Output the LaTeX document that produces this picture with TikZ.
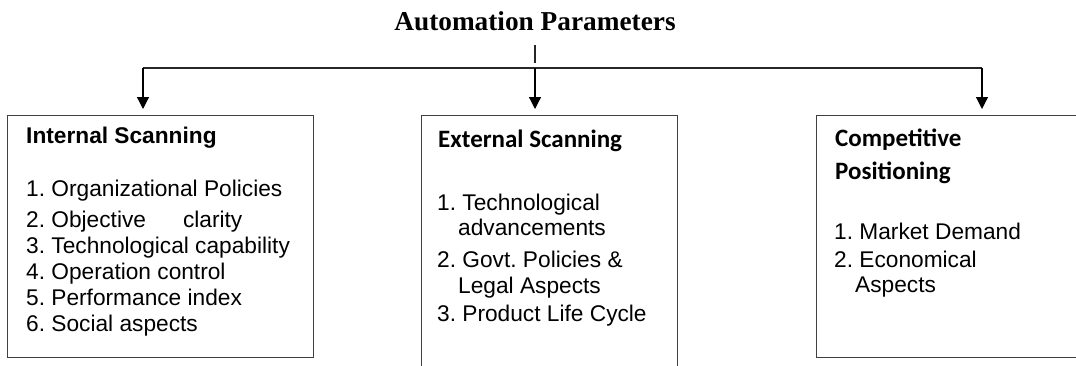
\documentclass[tikz,border=0pt]{standalone}
\usepackage{fontspec}
\setmainfont{Liberation Sans}
\newfontfamily\titlefont{Liberation Serif}
\newfontfamily\headfont{Carlito}
\usetikzlibrary{arrows.meta}
\frenchspacing
\begin{document}
\begin{tikzpicture}[x=1pt,y=-1pt,
  panel/.style={draw=black!75,line width=1.2pt,rectangle,inner sep=0pt,anchor=north west},
  item/.style={anchor=base west,inner sep=0pt,font=\frenchspacing\fontsize{22.7}{26}\selectfont},
  arialhead/.style={anchor=base west,inner sep=0pt,font=\fontsize{22.7}{26}\selectfont\bfseries},
  calhead/.style={anchor=base west,inner sep=0pt,font=\headfont\fontsize{25}{28}\selectfont\bfseries},
  link/.style={draw=black!85,line width=1.2pt},
  arr/.style={link,draw=black,-{Triangle[width=12pt,length=12pt]},shorten >=6pt}]
\useasboundingbox (0,0) rectangle (1076,365);
\clip (0,0) rectangle (1076,365);

% title and branching connectors
\node[anchor=base,inner sep=0pt,font=\titlefont\fontsize{27.3}{30}\selectfont\bfseries] (title) at (535,30) {Automation Parameters};
\coordinate (tickA) at (535,45);
\coordinate (tickB) at (535,63);
\coordinate (hub) at (535,68);
\coordinate (lft) at (143,68);
\coordinate (rgt) at (982,68);

% three panels
\node[panel,minimum width=306pt,minimum height=242pt] (int) at (7,115) {};
\node[panel,minimum width=256pt,minimum height=300pt] (ext) at (421,115) {};
\node[panel,minimum width=290pt,minimum height=242pt] (comp) at (816,115) {};

\draw[link] (tickA) -- (tickB);
\draw[link] (lft) -- (rgt);
\draw[arr] (lft) -- (lft |- int.north);
\draw[arr] (hub) -- (hub |- ext.north);
\draw[arr] (rgt) -- (rgt |- comp.north);

% internal scanning
\node[arialhead] (intH) at (26,143) {Internal Scanning};
\foreach \yy/\tt [count=\i] in {196/{1. Organizational Policies},
    227/{2. Objective\hspace{37pt}clarity},
    253/{3. Technological capability},
    279/{4. Operation control},
    305/{5. Performance index},
    331/{6. Social aspects}}
  \node[item] (int\i) at (26,\yy) {\tt};

% external scanning
\node[calhead] (extH) at (438,147) {External Scanning};
\foreach \xx/\yy/\tt [count=\i] in {437/210/{1. Technological},
    458/235/{advancements},
    437/267/{2. Govt. Policies \&},
    458/293/{Legal Aspects},
    437/321/{3. Product Life Cycle}}
  \node[item] (ext\i) at (\xx,\yy) {\tt};

% competitive positioning
\node[calhead] (compH1) at (835,146) {Competitive};
\node[calhead] (compH2) at (835,179) {Positioning};
\foreach \xx/\yy/\tt [count=\i] in {834/239/{1. Market Demand},
    834/267/{2. Economical},
    855/292/{Aspects}}
  \node[item] (comp\i) at (\xx,\yy) {\tt};
\end{tikzpicture}
\end{document}
